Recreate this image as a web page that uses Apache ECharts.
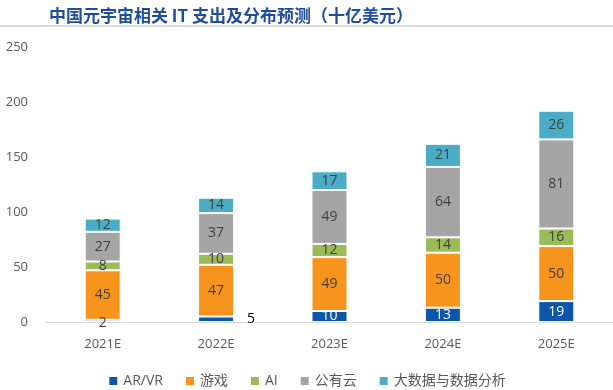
<!DOCTYPE html>
<html><head><meta charset="utf-8">
<script src="https://cdn.jsdelivr.net/npm/echarts@6/dist/echarts.min.js"></script>
<style>html,body{margin:0;padding:0;background:#fff}#c{width:613px;height:390px}</style>
</head><body><div id="c"></div>
<script>
const categories = ['2021E','2022E','2023E','2024E','2025E'];
const seriesNames = ['AR/VR','游戏','AI','公有云','大数据与数据分析'];
const arvr = [2, 5, 10, 13, 19];
const games = [45, 47, 49, 50, 50];
const ai = [8, 10, 12, 14, 16];
const cloud = [27, 37, 49, 64, 81];
const bigdata = [12, 14, 17, 21, 26];
const yTicks = [0, 50, 100, 150, 200, 250];
const colors = ['#0B56A8', '#F7941D', '#9BBB59', '#A5A5A5', '#4BACC6'];

const font = 'Open Sans, Liberation Sans, Noto Sans CJK SC, sans-serif';
const values = [arvr, games, ai, cloud, bigdata];

function arvrData(vals) {
  return vals.map(function (v) {
    if (v < 4) return { value: v, label: { color: '#404040', position: 'inside', offset: [0, 2] } };
    if (v < 8) return { value: v, label: { color: '#000', position: 'right', offset: [8, 0] } };
    return { value: v, label: { color: '#fff' } };
  });
}

const series = values.map(function (vals, i) {
  return {
    name: seriesNames[i],
    type: 'bar',
    stack: 'total',
    barWidth: 36,
    data: i === 0 ? arvrData(vals) : vals,
    itemStyle: { color: colors[i], borderColor: '#fff', borderWidth: 1 },
    label: { show: true, position: 'inside', fontSize: 14, color: '#404040', fontFamily: font },
    emphasis: { disabled: true }
  };
});

const chart = echarts.init(document.getElementById('c'), null, { renderer: 'canvas' });
chart.setOption({
  animation: false,
  color: colors,
  title: {
    text: '中国元宇宙相关 IT 支出及分布预测（十亿美元）',
    left: 44, top: 2,
    textStyle: { fontSize: 17, fontWeight: 'bold', color: '#1F4C9C', fontFamily: 'Noto Sans CJK SC, sans-serif' }
  },
  graphic: [{
    type: 'line', shape: { x1: 0, y1: 26, x2: 613, y2: 26 },
    style: { stroke: '#dcdcdc', lineWidth: 2 }, silent: true
  }],
  grid: { left: 46, right: 0, top: 47, bottom: 68, containLabel: false },
  legend: {
    data: seriesNames,
    left: 'center', top: 369,
    itemWidth: 10, itemHeight: 10, itemGap: 21,
    icon: 'rect',
    textStyle: { fontSize: 14, color: '#595959', fontFamily: font }
  },
  xAxis: {
    type: 'category', data: categories,
    axisLine: { lineStyle: { color: '#d9d9d9', width: 1 } },
    axisTick: { show: false },
    axisLabel: { fontSize: 13, color: '#595959', margin: 16, fontFamily: font }
  },
  yAxis: {
    type: 'value', min: yTicks[0], max: yTicks[yTicks.length - 1], interval: 50,
    axisLine: { show: false }, axisTick: { show: false }, splitLine: { show: false },
    axisLabel: { fontSize: 13, color: '#595959', margin: 18, fontFamily: font }
  },
  series: series
});
</script></body></html>
